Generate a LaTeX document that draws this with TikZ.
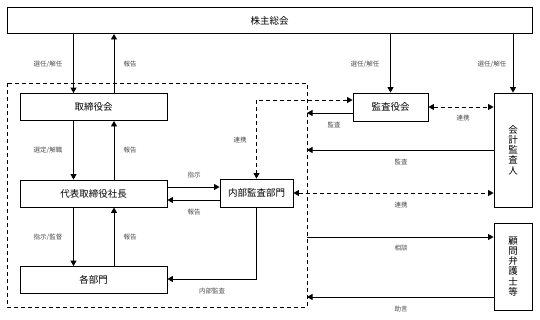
\documentclass[tikz,border=0pt]{standalone}
\usepackage{fontspec}
\setmainfont{Noto Sans CJK JP}
\usetikzlibrary{arrows.meta,calc}
\begin{document}
\begin{tikzpicture}[x=1pt,y=-1pt,
  box/.style={draw,line width=0.9pt,fill=white,inner sep=0pt,font=\fontsize{9.5}{10}\selectfont},
  vbox/.style={box,align=center,font=\fontsize{9.5}{10.2}\selectfont},
  lbl/.style={font=\fontsize{6.5}{7}\selectfont,text=black!70,inner sep=0pt},
  arr/.style={line width=0.9pt,-{Triangle[length=5.5pt,width=6pt]}},
  darr/.style={line width=0.9pt,dash pattern=on 4pt off 3pt,{Triangle[length=5.5pt,width=6pt]}-{Triangle[length=5.5pt,width=6pt]}},
  bound/.style={line width=0.9pt,dash pattern=on 4pt off 3pt}]
\useasboundingbox (0,0) rectangle (540,319);
% boundary
\coordinate (bTL) at (7,83);
\coordinate (bBR) at (307,307);
\draw[bound] (bTL) rectangle (bBR);
% nodes
\node[box,minimum width=525pt,minimum height=26pt] (kabu) at (269.5,20.5) {株主総会};
\node[box,minimum width=147pt,minimum height=27pt] (tori) at (93.5,107) {取締役会};
\node[box,minimum width=147pt,minimum height=27pt] (dai) at (93.5,193.5) {代表取締役社長};
\node[box,minimum width=147pt,minimum height=27pt] (kaku) at (93.5,280) {各部門};
\node[box,minimum width=73pt,minimum height=28pt] (nai) at (256.5,193) {内部監査部門};
\node[box,minimum width=75pt,minimum height=28pt] (kan) at (390.5,107) {監査役会};
\node[vbox,minimum width=38pt,minimum height=114pt] (kai) at (513,150) {会\\計\\監\\査\\人};
\node[vbox,minimum width=38pt,minimum height=87pt] (kom) at (513,266.5) {顧\\問\\弁\\護\\士\\等};
% x positions
\coordinate (xL) at (73.5,0);
\coordinate (xR) at (114,0);
% top connections
\draw[arr] (kabu.south -| xL) -- (tori.north -| xL);
\draw[arr] (tori.north -| xR) -- (kabu.south -| xR);
\draw[arr] (kabu.south -| kan.north) -- (kan.north);
\draw[arr] (kabu.south -| kai.north) -- (kai.north);
\node[lbl] at (48,64) {選任/解任};
\node[lbl] at (130,64) {報告};
\node[lbl] at (365,64) {選任/解任};
\node[lbl] at (492,64) {選任/解任};
% left column
\draw[arr] (tori.south -| xL) -- (dai.north -| xL);
\draw[arr] (dai.north -| xR) -- (tori.south -| xR);
\draw[arr] (dai.south -| xL) -- (kaku.north -| xL);
\draw[arr] (kaku.north -| xR) -- (dai.south -| xR);
\node[lbl] at (48,150) {選定/解職};
\node[lbl] at (130,150) {報告};
\node[lbl] at (48,237) {指示/監督};
\node[lbl] at (130,237) {報告};
% dai <-> nai
\coordinate (y1) at (0,187);
\coordinate (y2) at (0,200);
\draw[arr] (dai.east |- y1) -- (nai.west |- y1);
\draw[arr] (nai.west |- y2) -- (dai.east |- y2);
\node[lbl] at (194,175) {指示};
\node[lbl] at (194,212) {報告};
% nai -> kaku
\coordinate (y3) at (0,279);
\draw[arr] (nai.south) |- (kaku.east |- y3);
\node[lbl] at (212,291) {内部監査};
% kan <-> nai dashed
\draw[darr] ([yshift=7pt]kan.west) -| (nai.north);
\node[lbl] at (240,140) {連携};
% kan -> boundary
\coordinate (b1) at (307,113);
\draw[arr] (kan.west |- b1) -- (b1);
\node[lbl] at (334,125) {監査};
% kan <-> kai
\draw[darr] (kan.east) -- (kai.west |- kan.east);
\node[lbl] at (463,118) {連携};
% kai -> boundary
\coordinate (b2) at (307,150);
\draw[arr] (kai.west |- b2) -- (b2);
\node[lbl] at (401,162) {監査};
% nai <-> kai
\draw[darr] (nai.east) -- (kai.west |- nai.east);
\node[lbl] at (401,205) {連携};
% boundary <-> kom
\coordinate (b3) at (307,237);
\coordinate (b4) at (307,297);
\draw[arr] (b3) -- (kom.west |- b3);
\node[lbl] at (401,248) {相談};
\draw[arr] (kom.west |- b4) -- (b4);
\node[lbl] at (401,309) {助言};
\end{tikzpicture}
\end{document}
